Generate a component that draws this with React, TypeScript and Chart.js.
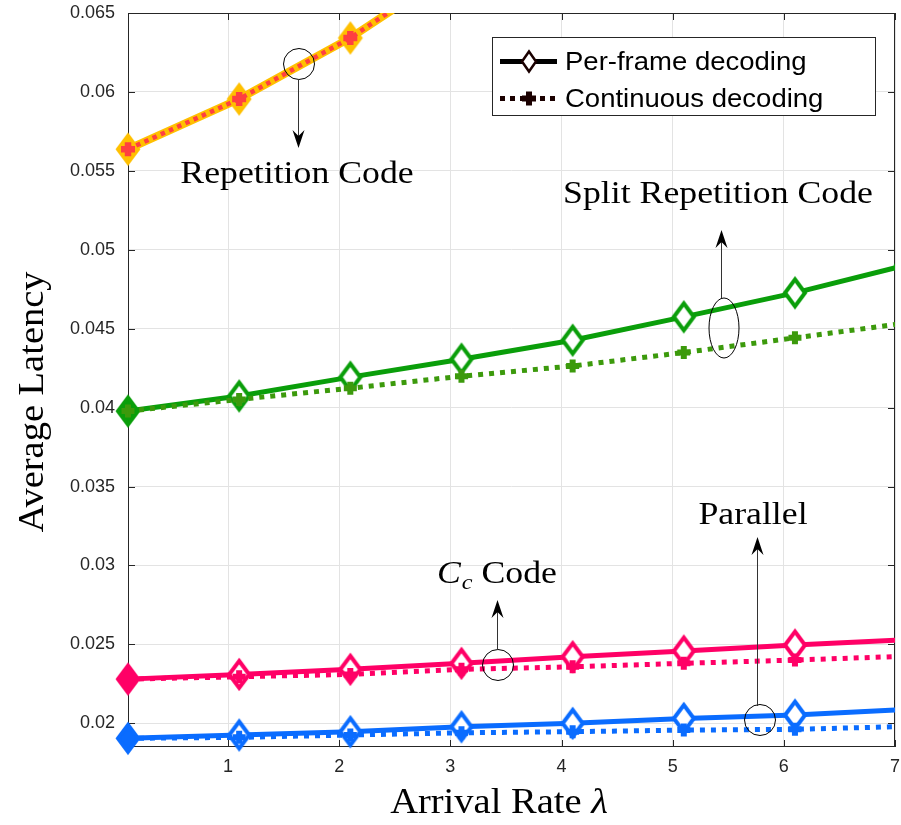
import React, { useEffect, useRef } from 'react';
import { Chart, registerables } from 'chart.js';

Chart.register(...registerables);

// ---------------- data ----------------
const lambdas = [0.1, 1.1, 2.1, 3.1, 4.1, 5.1, 6.1, 7.1];
const repPerFrame = [0.05637, 0.05955, 0.06342, 0.0681];
const repContinuous = [0.05637, 0.05955, 0.06342, 0.0681];
const splitPerFrame = [0.03978, 0.04074, 0.04193, 0.04307, 0.04427, 0.04575, 0.04727, 0.04903];
const splitContinuous = [0.03978, 0.04052, 0.04123, 0.04199, 0.04264, 0.04349, 0.04442, 0.04536];
const ccPerFrame = [0.0228, 0.0231, 0.02342, 0.0238, 0.02422, 0.02458, 0.02496, 0.0253];
const ccContinuous = [0.0228, 0.02295, 0.0231, 0.02342, 0.02358, 0.0238, 0.02401, 0.02425];
const parPerFrame = [0.01905, 0.01926, 0.01947, 0.01978, 0.02, 0.02031, 0.02052, 0.02088];
const parContinuous = [0.01905, 0.01911, 0.01926, 0.0194, 0.01947, 0.01957, 0.01962, 0.0198];

const xTicks = [1, 2, 3, 4, 5, 6, 7];
const xTickLabels = ['1', '2', '3', '4', '5', '6', '7'];
const yTicks = [0.02, 0.025, 0.03, 0.035, 0.04, 0.045, 0.05, 0.055, 0.06, 0.065];
const yTickLabels = ['0.02', '0.025', '0.03', '0.035', '0.04', '0.045', '0.05', '0.055', '0.06', '0.065'];
const xMin = 0.1;
const xMax = 7;
const yMin = 0.0185;
const yMax = 0.065;

const legendLabels = ['Per-frame decoding', 'Continuous decoding'];
const xTitle = 'Arrival Rate ';
const xTitleSymbol = 'λ';
const yTitle = 'Average Latency';
const annRepetition = 'Repetition Code';
const annSplit = 'Split Repetition Code';
const annCcSymbol = 'C';
const annCcSub = 'c';
const annCcRest = ' Code';
const annParallel = 'Parallel';

// ---------------- helpers ----------------
const SERIF = "'Liberation Serif', 'Times New Roman', serif";
const SANS = "'Liberation Sans', Arial, sans-serif";
const TEXT_SX = 1.1;

function makeDiamond(stroke: string, fill: string, hw: number, hh: number, lw: number) {
  const c = document.createElement('canvas');
  const W = Math.ceil(2 * hw + 4 * lw);
  const H = Math.ceil(2 * hh + 4 * lw);
  c.width = W;
  c.height = H;
  const ctx = c.getContext('2d')!;
  const cx = W / 2;
  const cy = H / 2;
  ctx.beginPath();
  ctx.moveTo(cx, cy - hh);
  ctx.lineTo(cx + hw, cy);
  ctx.lineTo(cx, cy + hh);
  ctx.lineTo(cx - hw, cy);
  ctx.closePath();
  ctx.fillStyle = fill;
  ctx.fill();
  ctx.lineWidth = lw;
  ctx.lineJoin = 'miter';
  ctx.strokeStyle = stroke;
  ctx.stroke();
  return c;
}

function pts(values: number[]) {
  return values.map((v, i) => ({ x: lambdas[i], y: v }));
}

function sText(ctx: CanvasRenderingContext2D, text: string, x: number, y: number, font: string, align: string, sx = TEXT_SX, color = '#000') {
  ctx.save();
  ctx.font = font;
  ctx.fillStyle = color;
  ctx.textAlign = 'left';
  ctx.textBaseline = 'alphabetic';
  const w = ctx.measureText(text).width * sx;
  const x0 = align === 'center' ? x - w / 2 : align === 'right' ? x - w : x;
  ctx.translate(x0, y);
  ctx.scale(sx, 1);
  ctx.fillText(text, 0, 0);
  ctx.restore();
  return w;
}

function measure(ctx: CanvasRenderingContext2D, text: string, font: string, sx = TEXT_SX) {
  ctx.save();
  ctx.font = font;
  const w = ctx.measureText(text).width * sx;
  ctx.restore();
  return w;
}

function arrow(ctx: CanvasRenderingContext2D, x: number, y0: number, y1: number) {
  const dir = y1 < y0 ? -1 : 1;
  ctx.save();
  ctx.strokeStyle = '#333';
  ctx.lineWidth = 1;
  ctx.beginPath();
  ctx.moveTo(x + 0.5, y0);
  ctx.lineTo(x + 0.5, y1 - dir * 10);
  ctx.stroke();
  ctx.fillStyle = '#000';
  ctx.beginPath();
  ctx.moveTo(x + 0.5, y1);
  ctx.lineTo(x + 0.5 + 6, y1 - dir * 18);
  ctx.lineTo(x + 0.5, y1 - dir * 12);
  ctx.lineTo(x + 0.5 - 6, y1 - dir * 18);
  ctx.closePath();
  ctx.fill();
  ctx.restore();
}

function ellipse(ctx: CanvasRenderingContext2D, cx: number, cy: number, rx: number, ry: number) {
  ctx.save();
  ctx.strokeStyle = '#000';
  ctx.lineWidth = 1;
  ctx.beginPath();
  ctx.ellipse(cx, cy, rx, ry, 0, 0, Math.PI * 2);
  ctx.stroke();
  ctx.restore();
}

const overlayPlugin = {
  id: 'overlay',
  beforeDatasetsDraw(chart: any) {
    const { ctx, chartArea } = chart;
    const { left, right, top, bottom } = chartArea;
    const xs = chart.scales.x;
    const ys = chart.scales.y;
    ctx.save();
    ctx.strokeStyle = '#262626';
    ctx.lineWidth = 1;
    ctx.strokeRect(Math.round(left) + 0.5, Math.round(top) + 0.5, Math.round(right - left) - 1, Math.round(bottom - top) - 1);
    ctx.beginPath();
    const tl = 7;
    xTicks.forEach((v) => {
      const px = Math.round(xs.getPixelForValue(v)) + 0.5;
      ctx.moveTo(px, bottom);
      ctx.lineTo(px, bottom - tl);
      ctx.moveTo(px, top);
      ctx.lineTo(px, top + tl);
    });
    yTicks.forEach((v) => {
      const py = Math.round(ys.getPixelForValue(v)) + 0.5;
      ctx.moveTo(left, py);
      ctx.lineTo(left + tl, py);
      ctx.moveTo(right, py);
      ctx.lineTo(right - tl, py);
    });
    ctx.stroke();
    ctx.restore();
  },
  afterDatasetsDraw(chart: any) {
    const ctx: CanvasRenderingContext2D = chart.ctx;
    const annFont = `32.5px ${SERIF}`;

    // Repetition code
    ellipse(ctx, 299, 64, 15.5, 15.5);
    arrow(ctx, 298, 79, 148);
    sText(ctx, annRepetition, 297, 183, annFont, 'center');

    // Split repetition code
    ellipse(ctx, 724, 328, 15, 30);
    arrow(ctx, 721, 298, 230);
    sText(ctx, annSplit, 718, 203, annFont, 'center');

    // Cc code
    ellipse(ctx, 498, 665, 15.5, 15.5);
    arrow(ctx, 497, 650, 600);
    {
      let x = 437;
      const yb = 583;
      x += sText(ctx, annCcSymbol, x, yb, `italic 32.5px ${SERIF}`, 'left');
      x += sText(ctx, annCcSub, x + 1, yb + 6, `italic 22px ${SERIF}`, 'left') + 1;
      sText(ctx, annCcRest, x, yb, annFont, 'left');
    }

    // Parallel
    ellipse(ctx, 760, 720, 15.5, 15.5);
    arrow(ctx, 757, 706, 537);
    sText(ctx, annParallel, 753, 524, annFont, 'center');

    // Legend
    ctx.save();
    ctx.fillStyle = '#fff';
    ctx.fillRect(492, 37, 383, 78);
    ctx.strokeStyle = '#262626';
    ctx.lineWidth = 1;
    ctx.strokeRect(492.5, 37.5, 383, 78);
    const r1 = 61.5;
    const r2 = 98.5;
    ctx.strokeStyle = '#000';
    ctx.lineWidth = 5;
    ctx.beginPath();
    ctx.moveTo(500, r1);
    ctx.lineTo(557, r1);
    ctx.stroke();
    ctx.beginPath();
    ctx.moveTo(529, r1 - 10);
    ctx.lineTo(536, r1);
    ctx.lineTo(529, r1 + 10);
    ctx.lineTo(522, r1);
    ctx.closePath();
    ctx.fillStyle = '#fff';
    ctx.fill();
    ctx.lineWidth = 2.5;
    ctx.strokeStyle = '#1a0000';
    ctx.stroke();
    ctx.strokeStyle = '#1a0000';
    ctx.lineWidth = 5;
    ctx.setLineDash([5, 5]);
    ctx.beginPath();
    ctx.moveTo(500, r2);
    ctx.lineTo(557, r2);
    ctx.stroke();
    ctx.setLineDash([]);
    ctx.lineWidth = 6;
    ctx.beginPath();
    ctx.moveTo(522, r2);
    ctx.lineTo(536, r2);
    ctx.moveTo(529, r2 - 7);
    ctx.lineTo(529, r2 + 7);
    ctx.stroke();
    ctx.restore();
    const legFont = `25px ${SANS}`;
    sText(ctx, legendLabels[0], 565, r1 + 8.5, legFont, 'left', 1.1);
    sText(ctx, legendLabels[1], 565, r2 + 8.5, legFont, 'left', 1.1);
  },
  afterDraw(chart: any) {
    const ctx: CanvasRenderingContext2D = chart.ctx;
    const tFont = `35px ${SERIF}`;
    const tFontI = `italic 35px ${SERIF}`;
    const w1 = measure(ctx, xTitle, tFont);
    const w2 = measure(ctx, xTitleSymbol, tFontI);
    const x0 = 499 - (w1 + w2) / 2;
    sText(ctx, xTitle, x0, 813, tFont, 'left');
    sText(ctx, xTitleSymbol, x0 + w1, 813, tFontI, 'left');
    ctx.save();
    ctx.translate(43, 402);
    ctx.rotate(-Math.PI / 2);
    sText(ctx, yTitle, 0, 0, tFont, 'center');
    ctx.restore();
  },
};

export default function App() {
  const ref = useRef<HTMLCanvasElement | null>(null);

  useEffect(() => {
    if (!ref.current) return;

    const yellow = '#FFC000';
    const red = '#FF4040';
    const green = '#0A9E0A';
    const green2 = '#3C9A0C';
    const pink = '#FF0066';
    const blue = '#0A6CFF';

    const dHollow = (c: string) => makeDiamond(c, '#fff', 10, 13.5, 4);
    const dFilled = (c: string) => makeDiamond(c, c, 10, 13.5, 4);
    const perFrameStyles = (c: string, n: number) =>
      Array.from({ length: n }, (_, i) => (i === 0 ? dFilled(c) : dHollow(c)));

    const clip = { left: 30, top: 0, right: 0, bottom: 30 };

    const solid = (label: string, values: number[], color: string, width: number, styles: any) => ({
      label,
      data: pts(values),
      borderColor: color,
      backgroundColor: color,
      borderWidth: width,
      pointStyle: styles,
      pointRadius: 12,
      pointBorderWidth: 1,
      pointHoverRadius: 12,
      order: 2,
      clip,
      tension: 0,
    });
    const dotted = (label: string, values: number[], color: string, width: number, dash: number[], r: number, pw: number) => ({
      label,
      data: pts(values),
      borderColor: color,
      backgroundColor: color,
      borderWidth: width,
      borderDash: dash,
      pointStyle: 'cross',
      pointRadius: r,
      pointBorderWidth: pw,
      pointBorderColor: color,
      pointBackgroundColor: color,
      order: 1,
      clip,
      tension: 0,
    });

    const chart = new Chart(ref.current, {
      type: 'line',
      data: {
        datasets: [
          dotted('Repetition Code continuous', repContinuous, red, 4.5, [4.5, 4.5], 7, 6.5),
          solid('Repetition Code per-frame', repPerFrame, yellow, 8, repPerFrame.map(() => dFilled(yellow))),
          dotted('Split continuous', splitContinuous, green2, 5, [5, 6], 6.5, 6),
          solid('Split per-frame', splitPerFrame, green, 5, perFrameStyles(green, splitPerFrame.length)),
          dotted('Cc continuous', ccContinuous, pink, 5, [5, 6], 6.5, 6),
          solid('Cc per-frame', ccPerFrame, pink, 5, perFrameStyles(pink, ccPerFrame.length)),
          dotted('Parallel continuous', parContinuous, blue, 5, [5, 6], 6.5, 6),
          solid('Parallel per-frame', parPerFrame, blue, 5, perFrameStyles(blue, parPerFrame.length)),
        ] as any,
      },
      options: {
        animation: false,
        responsive: false,
        devicePixelRatio: 1,
        events: [],
        layout: { autoPadding: false, padding: { top: 13, right: 6, left: 0, bottom: 0 } },
        plugins: {
          legend: { display: false },
          tooltip: { enabled: false },
          title: { display: false },
        },
        scales: {
          x: {
            type: 'linear',
            min: xMin,
            max: xMax,
            afterBuildTicks: (scale: any) => {
              scale.ticks = xTicks.map((v) => ({ value: v }));
            },
            afterFit: (scale: any) => {
              scale.height = 78;
              scale.paddingLeft = 0;
              scale.paddingRight = 0;
            },
            ticks: {
              color: '#262626',
              font: { family: SANS, size: 18 },
              padding: 9,
              maxRotation: 0,
              autoSkip: false,
              callback: (v: any) => {
                const i = xTicks.findIndex((t) => Math.abs(t - Number(v)) < 1e-9);
                return i >= 0 ? xTickLabels[i] : '';
              },
            },
            grid: { color: '#e3e3e3', lineWidth: 1, drawTicks: false },
            border: { display: false },
          },
          y: {
            type: 'linear',
            min: yMin,
            max: yMax,
            afterBuildTicks: (scale: any) => {
              scale.ticks = yTicks.map((v) => ({ value: v }));
            },
            afterFit: (scale: any) => {
              scale.width = 128;
              scale.paddingTop = 0;
              scale.paddingBottom = 0;
            },
            ticks: {
              color: '#262626',
              font: { family: SANS, size: 18 },
              padding: 13,
              autoSkip: false,
              callback: (v: any) => {
                const i = yTicks.findIndex((t) => Math.abs(t - Number(v)) < 1e-9);
                return i >= 0 ? yTickLabels[i] : '';
              },
            },
            grid: { color: '#e3e3e3', lineWidth: 1, drawTicks: false },
            border: { display: false },
          },
        },
      } as any,
      plugins: [overlayPlugin as any],
    });

    return () => chart.destroy();
  }, []);

  return (
    <canvas
      ref={ref}
      width={901}
      height={825}
      style={{ position: 'absolute', left: 0, top: 0, width: 901, height: 825, background: '#fff' }}
    />
  );
}
